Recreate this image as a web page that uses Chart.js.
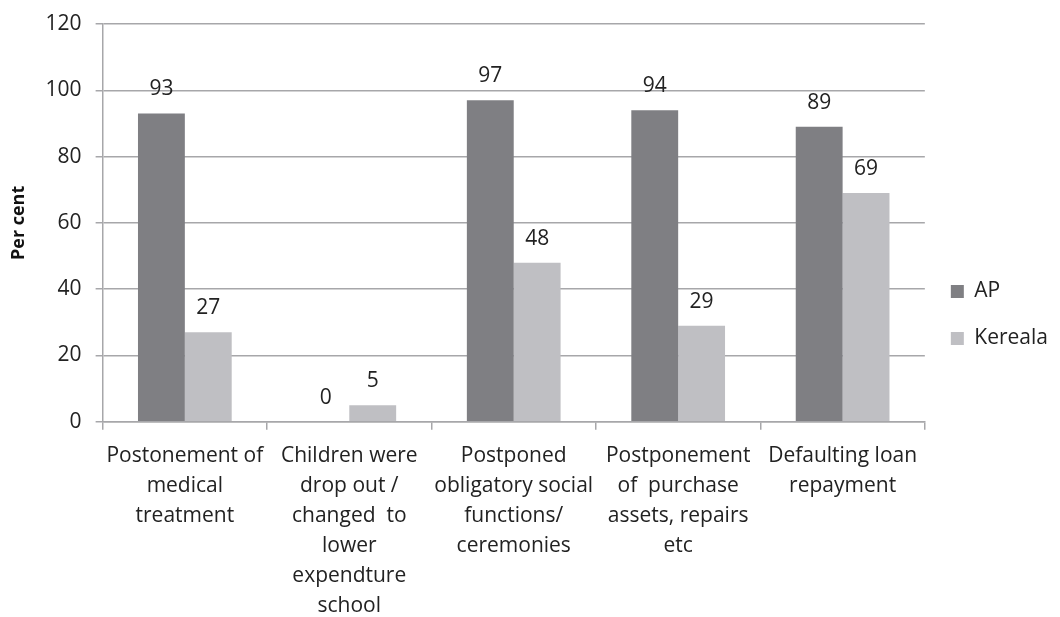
<!DOCTYPE html>
<html>
<head>
<meta charset="utf-8">
<script src="https://cdn.jsdelivr.net/npm/chart.js@4"></script>
<style>
  html, body { margin: 0; padding: 0; background: #fff; }
  #wrap { width: 1060px; height: 617px; position: relative; }
</style>
</head>
<body>
<div id="wrap"><canvas id="chart-copes"></canvas></div>
<script>
const categories = [
  ["Postonement of", "medical", "treatment"],
  ["Children were", "drop out /", "changed  to", "lower", "expendture", "school"],
  ["Postponed", "obligatory social", "functions/", "ceremonies"],
  ["Postponement", "of  purchase", "assets, repairs", "etc"],
  ["Defaulting loan", "repayment"]
];
const apValues = [93, 0, 97, 94, 89];
const keralaValues = [27, 5, 48, 29, 69];
const yTicks = [0, 20, 40, 60, 80, 100, 120];

const FONT = "'Open Sans', 'Noto Sans', sans-serif";
const GRID = "#a7a7aa";

// value printed above each bar
const barLabels = {
  id: "barLabels",
  afterDatasetsDraw(chart) {
    const ctx = chart.ctx;
    ctx.save();
    ctx.font = "21px " + FONT;
    ctx.fillStyle = "#222";
    ctx.textAlign = "center";
    ctx.textBaseline = "alphabetic";
    chart.data.datasets.forEach((ds, i) => {
      chart.getDatasetMeta(i).data.forEach((bar, j) => {
        ctx.fillText(String(ds.data[j]), bar.x, bar.y - 18);
      });
    });
    ctx.restore();
  }
};

new Chart(document.getElementById("chart-copes").getContext("2d"), {
  type: "bar",
  plugins: [barLabels],
  data: {
    labels: categories,
    datasets: [
      {
        label: "AP",
        data: apValues,
        backgroundColor: "#7f7f83",
        categoryPercentage: 0.57,
        barPercentage: 1
      },
      {
        label: "Kereala",
        data: keralaValues,
        backgroundColor: "#bfbfc3",
        categoryPercentage: 0.57,
        barPercentage: 1
      }
    ]
  },
  options: {
    responsive: true,
    maintainAspectRatio: false,
    animation: false,
    layout: { padding: { top: -2, right: 2, left: 4, bottom: -15 } },
    plugins: {
      legend: {
        position: "right",
        labels: {
          boxWidth: 13,
          boxHeight: 13,
          padding: 26,
          color: "#222",
          font: { family: FONT, size: 21 }
        }
      },
      tooltip: { enabled: false }
    },
    scales: {
      y: {
        min: 0,
        max: 120,
        afterBuildTicks(axis) {
          axis.ticks = yTicks.map((v) => ({ value: v }));
        },
        grid: {
          color: GRID,
          lineWidth: 1.5,
          drawTicks: true,
          tickLength: 7
        },
        border: { color: GRID, width: 1.5 },
        ticks: {
          padding: 14,
          color: "#222",
          font: { family: FONT, size: 21, lineHeight: 0.95 }
        },
        title: {
          display: true,
          text: "Per cent",
          color: "#111",
          padding: { top: 4, bottom: 2 },
          font: { family: FONT, size: 18, weight: "bold" }
        }
      },
      x: {
        grid: {
          offset: true,
          drawOnChartArea: false,
          drawTicks: true,
          tickLength: 8,
          color: GRID,
          lineWidth: 1.5
        },
        border: { color: GRID, width: 1.5 },
        ticks: {
          padding: 11,
          maxRotation: 0,
          autoSkip: false,
          color: "#222",
          font: { family: FONT, size: 21, lineHeight: 1.43 }
        }
      }
    }
  }
});
</script>
</body>
</html>
